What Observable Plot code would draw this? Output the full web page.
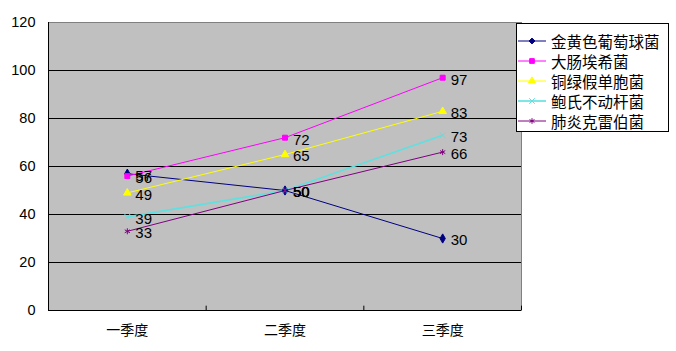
<!DOCTYPE html>
<html><head><meta charset="utf-8">
<script src="https://cdn.jsdelivr.net/npm/d3@7"></script>
<script src="https://cdn.jsdelivr.net/npm/@observablehq/plot@0.6"></script>
<style>
body{margin:0;background:#fff;}
#wrap{position:relative;width:676px;height:351px;font-family:"Noto Sans CJK SC",sans-serif;}
#legend{position:absolute;left:516px;top:23px;width:151px;height:107px;border:1px solid #000;background:#fff;box-sizing:content-box;}
.row{position:absolute;left:0;height:20px;display:flex;align-items:center;font-size:15.5px;color:#000;white-space:nowrap;}
.row svg{display:block;margin-right:5px;}
</style>
</head><body>
<div id="wrap"></div>
<script>
const quarters = ["一季度", "二季度", "三季度"];
const seriesNames = ["金黄色葡萄球菌", "大肠埃希菌", "铜绿假单胞菌", "鲍氏不动杆菌", "肺炎克雷伯菌"];
const jinhuang = [57, 50, 30];
const dachang = [56, 72, 97];
const tonglv = [49, 65, 83];
const baoshi = [39, 50, 73];
const feiyan = [33, 50, 66];
const yTicks = [0, 20, 40, 60, 80, 100, 120];
const colors = ["#000080", "#ff00ff", "#ffff00", "#5fe0e0", "#800080"];
const symbols = ["diamond", "square", "triangle", "times", "asterisk"];
const widths = [1, 1, 1, 1.6, 1];

const allValues = [jinhuang, dachang, tonglv, baoshi, feiyan];
const data = [];
seriesNames.forEach((name, i) => quarters.forEach((q, j) => data.push({series: name, qi: j, value: allValues[i][j]})));

const chart = Plot.plot({
  width: 676, height: 351,
  marginLeft: 48, marginRight: 155, marginTop: 22, marginBottom: 41,
  style: {fontFamily: "'Liberation Sans', 'Noto Sans CJK SC', sans-serif", fontSize: "14px", background: "transparent"},
  x: {type: "linear", domain: [-0.5, quarters.length - 0.5], label: null},
  y: {domain: [0, 120], label: null},
  color: {domain: seriesNames, range: colors},
  symbol: {domain: seriesNames, range: symbols},
  marks: [
    Plot.frame({fill: "#c0c0c0", stroke: "#808080"}),
    Plot.ruleY(yTicks.filter(d => d > 0 && d < 120), {stroke: "#000", strokeWidth: 1}),
    Plot.ruleY([0], {stroke: "#000"}),
    Plot.ruleX([-0.5], {stroke: "#000"}),
    Plot.ruleX(d3.range(quarters.length + 1).map(i => i - 0.5), {y1: 0, y2: 1.8, stroke: "#000"}),
    Plot.axisY({ticks: yTicks, tickSize: 0, tickPadding: 13, fontSize: 14.5, fill: "#000"}),
    Plot.axisX({ticks: d3.range(quarters.length), tickFormat: i => quarters[i], tickSize: 0, tickPadding: 15, fontSize: 14, fill: "#000", fontFamily: "'Noto Sans CJK SC', sans-serif"}),
    ...seriesNames.map((name, i) => Plot.line(data.filter(d => d.series === name), {x: "qi", y: "value", stroke: colors[i], strokeWidth: widths[i]})),
    Plot.dot(data, {x: "qi", y: "value", symbol: "series", fill: "series", stroke: "series", r: 2.8, strokeWidth: 1}),
    Plot.text(data, {x: "qi", y: "value", text: d => String(d.value), dx: 8, dy: 2, textAnchor: "start", fill: "#000", fontSize: 15})
  ]
});
const wrap = document.getElementById("wrap");
wrap.appendChild(chart);

const legend = document.createElement("div");
legend.id = "legend";
const symMap = {diamond: d3.symbolDiamond2, square: d3.symbolSquare, triangle: d3.symbolTriangle, times: d3.symbolTimes, asterisk: d3.symbolAsterisk};
seriesNames.forEach((name, i) => {
  const row = document.createElement("div");
  row.className = "row";
  row.style.top = (7 + i * 20) + "px";
  const svg = d3.create("svg").attr("width", 29).attr("height", 20);
  svg.append("line").attr("x1", 1).attr("x2", 29).attr("y1", 10).attr("y2", 10).attr("stroke", colors[i]).attr("stroke-width", widths[i]);
  svg.append("path").attr("transform", "translate(15,10)").attr("d", d3.symbol(symMap[symbols[i]], 22)()).attr("fill", colors[i]).attr("stroke", colors[i]);
  row.appendChild(svg.node());
  const span = document.createElement("span");
  span.textContent = name;
  row.appendChild(span);
  legend.appendChild(row);
});
wrap.appendChild(legend);
</script>
</body></html>
